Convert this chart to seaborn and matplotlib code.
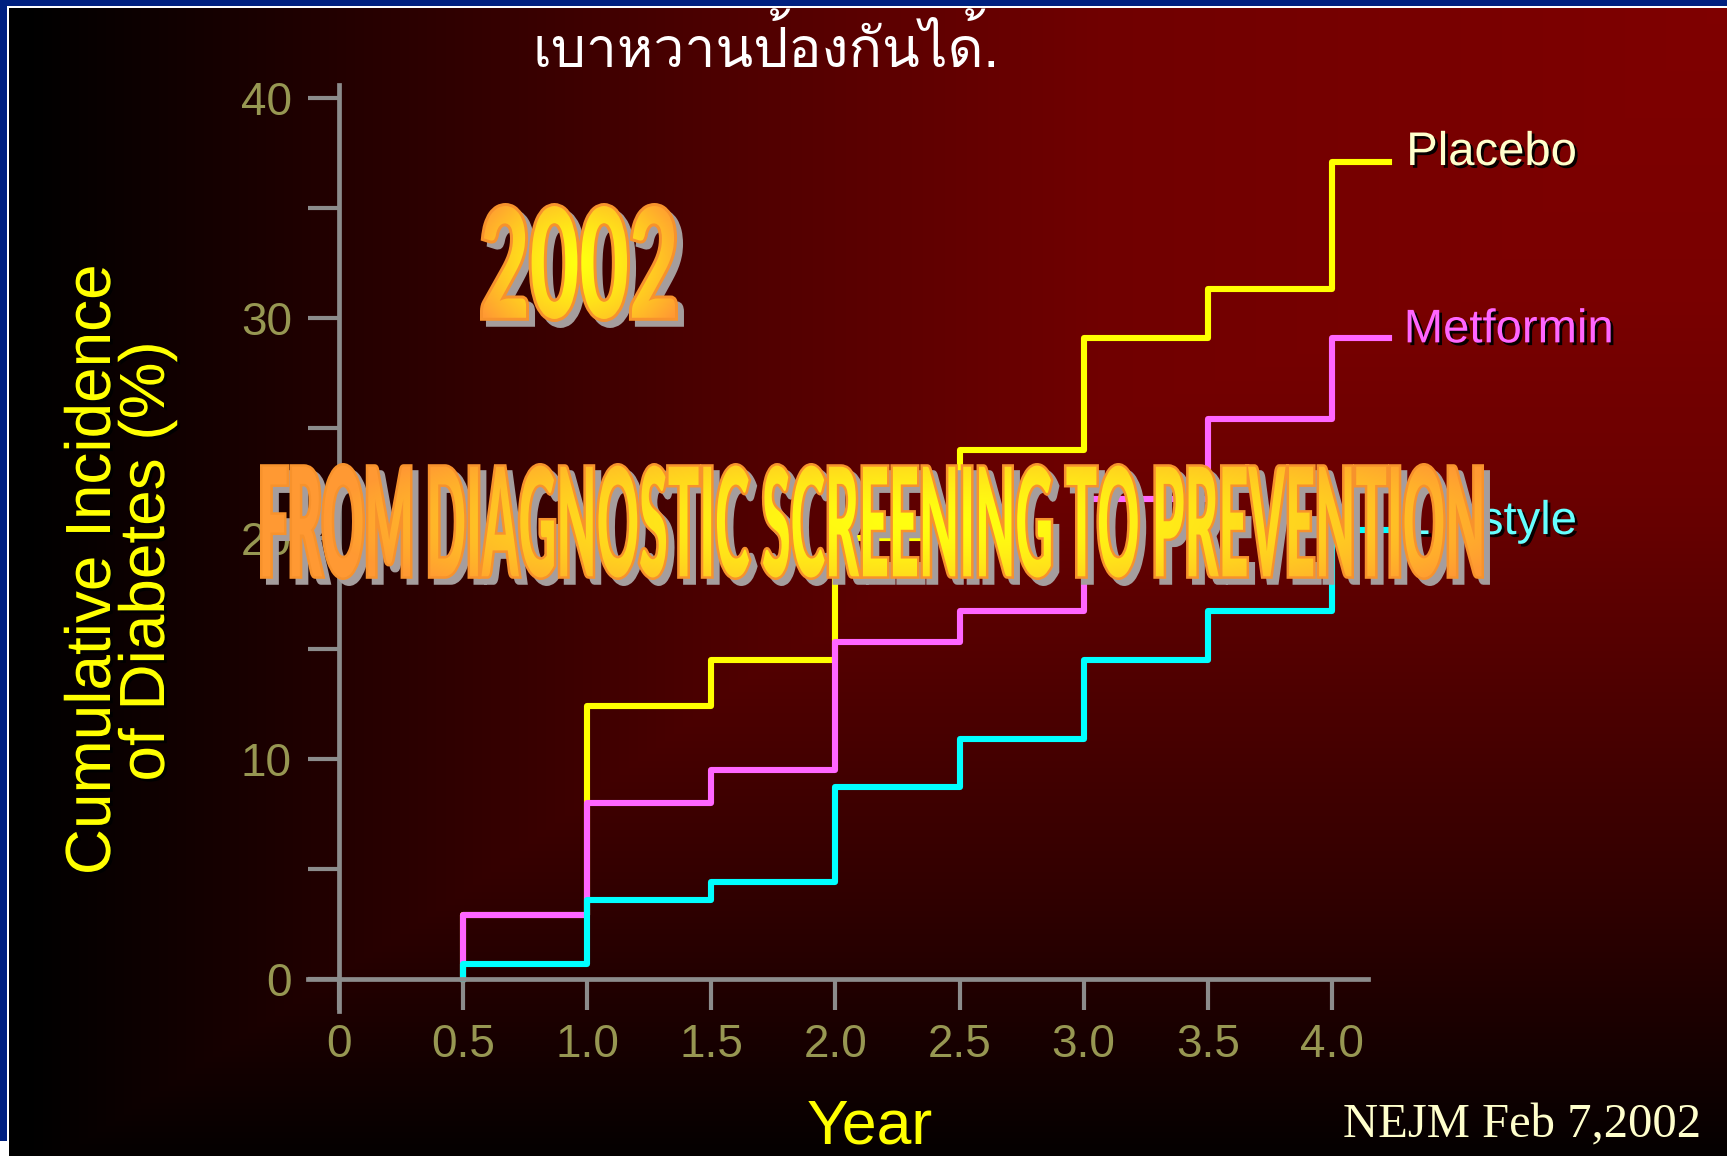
import numpy as np
import pandas as pd
import matplotlib
matplotlib.use("Agg")
import matplotlib.pyplot as plt
import matplotlib.patheffects as pe
from matplotlib.patches import Rectangle
from matplotlib.transforms import Affine2D, TransformedPath
from matplotlib.textpath import TextPath
from matplotlib.font_manager import FontProperties, fontManager
from matplotlib.ft2font import FT2Font
from matplotlib.colors import to_rgb, to_rgba
import seaborn as sns

# ---------------- data ----------------
years = [0.5, 0.5, 1.0, 1.5, 2.0, 2.5, 3.0, 3.5, 4.0, 4.23]
placebo = [0.0, 2.9, 12.4, 14.5, 20.0, 24.0, 29.1, 31.3, 37.1, 37.1]
metformin = [0.0, 2.9, 8.0, 9.5, 15.3, 16.7, 21.8, 25.4, 29.1, 29.1]
lifestyle = [0.0, 0.7, 3.6, 4.4, 8.7, 10.9, 14.5, 16.7, 20.4, 20.4]
groups = ["Placebo", "Metformin", "Lifestyle"]
line_colors = ["#ffff00", "#ff66ff", "#00ffff"]
label_colors = ["#ffffcc", "#ff66ff", "#66ffff"]
label_x = [4.30, 4.29, 4.29]
label_y = [36.95, 28.9, 20.2]

x_ticks = [0.0, 0.5, 1.0, 1.5, 2.0, 2.5, 3.0, 3.5, 4.0]
x_tick_labels = ["0", "0.5", "1.0", "1.5", "2.0", "2.5", "3.0", "3.5", "4.0"]
y_ticks = [0, 5, 10, 15, 20, 25, 30, 35, 40]
y_tick_labels = ["0", "", "10", "", "20", "", "30", "", "40"]

df = pd.DataFrame({
    "Year": years * 3,
    "Incidence": placebo + metformin + lifestyle,
    "Group": [g for g in groups for _ in years],
})

# ---------------- figure ----------------
W_PX, H_PX, DPI = 1727, 1156, 100
plt.rcParams["font.family"] = ["Liberation Sans", "DejaVu Sans"]
fig = plt.figure(figsize=(W_PX / DPI, H_PX / DPI), dpi=DPI)

# dark red slide background, brightest toward the upper right corner
xs = np.arange(W_PX)
ys = np.arange(H_PX)
fx = np.interp(xs, [0, 25, 400, 750, 1100, 1727], [0, 0, 0.33, 0.63, 0.88, 1.0])
fy = np.interp(ys, [0, 300, 500, 900, 1156], [1.0, 0.95, 0.83, 0.375, 0.03])
shade = np.minimum(fx[None, :], fy[:, None])
bg = np.zeros((H_PX, W_PX, 3))
bg[..., 0] = shade * 0.5
ax_bg = fig.add_axes([0, 0, 1, 1], zorder=-5)
ax_bg.imshow(bg, aspect="auto", interpolation="bilinear", extent=(0, 1, 0, 1))
ax_bg.set_axis_off()

# slide frame (blue band with a thin white rule)
def frame_rect(x, y, w, h, color):
    fig.add_artist(Rectangle((x / W_PX, 1 - (y + h) / H_PX), w / W_PX, h / H_PX,
                             transform=fig.transFigure, color=color, lw=0, zorder=20))

BLUE = "#002080"
frame_rect(0, 0, W_PX, 6, BLUE)
frame_rect(7, 6, W_PX - 7, 2, "white")
frame_rect(0, 0, 7, 1141, BLUE)
frame_rect(7, 6, 2, 1150, "white")
frame_rect(0, 1141, 9, 15, "white")

# ---------------- chart ----------------
ax = fig.add_axes([0.16757, 0.11497, 0.67545, 0.81946])
ax.set_facecolor("none")
ax.set_xlim(-0.2, 4.5)
ax.set_ylim(-2, 41)

sns.lineplot(data=df, x="Year", y="Incidence", hue="Group", hue_order=groups,
             palette=dict(zip(groups, line_colors)), estimator=None, sort=False,
             drawstyle="steps-post", linewidth=4.4, legend=False, ax=ax)

AXIS_GRAY = "#8c8c8c"
TICK_OLIVE = "#979752"
for side in ("top", "right"):
    ax.spines[side].set_visible(False)
ax.spines["left"].set_position(("data", 0))
ax.spines["bottom"].set_position(("data", 0))
ax.spines["left"].set_bounds(-1.45, 40.6)
ax.spines["bottom"].set_bounds(-0.125, 4.145)
for side in ("left", "bottom"):
    ax.spines[side].set_color(AXIS_GRAY)
    ax.spines[side].set_linewidth(3.4)

ax.set_xticks(x_ticks, x_tick_labels)
ax.set_yticks(y_ticks, y_tick_labels)
ax.tick_params(axis="both", direction="out", length=22.5, width=3.0,
               color=AXIS_GRAY, labelcolor=TICK_OLIVE, labelsize=33)
ax.tick_params(axis="x", pad=9.5)
ax.tick_params(axis="y", pad=11.5)
ax.set_xlabel("")
ax.set_ylabel("")

shadow = [pe.withSimplePatchShadow(offset=(2, -2), shadow_rgbFace="black", alpha=0.95)]
for name, lx, ly, col in zip(groups, label_x, label_y, label_colors):
    ax.text(lx, ly, name, color=col, fontsize=34, ha="left", va="baseline",
            path_effects=shadow)

# axis titles
fig.text(110 / W_PX, (H_PX - 570) / H_PX, "Cumulative Incidence", rotation=90,
         rotation_mode="anchor", ha="center", va="baseline", fontsize=46,
         color="#ffff00", path_effects=shadow)
fig.text(164 / W_PX, (H_PX - 561.5) / H_PX, "of Diabetes (%)", rotation=90,
         rotation_mode="anchor", ha="center", va="baseline", fontsize=46,
         color="#ffff00", path_effects=shadow)
fig.text(870 / W_PX, (H_PX - 1143) / H_PX, "Year", ha="center", va="baseline",
         fontsize=45, color="#ffff00")
fig.text(1701 / W_PX, (H_PX - 1137) / H_PX, "NEJM Feb 7,2002", ha="right",
         va="baseline", fontsize=35, color="#ffffcc", family="Liberation Serif")

# handwritten Thai note at the top
thai_note = "เบาหวานป้องกันได้."
thai_needed = {ord(c) for c in thai_note if ord(c) >= 0x0E00}
thai_candidates = []
for entry in fontManager.ttflist:
    try:
        cmap = FT2Font(entry.fname).get_charmap()
    except Exception:
        continue
    if thai_needed.issubset(cmap):
        w = entry.weight if isinstance(entry.weight, int) else 400
        thai_candidates.append((abs(w - 400), entry.style != "normal", entry.fname))
thai_candidates.sort()
if thai_candidates:
    thai_fp = FontProperties(fname=thai_candidates[0][2])
else:
    thai_fp = FontProperties(family="DejaVu Sans")
try:
    t_ext = TextPath((0, 0), "า", size=100, prop=thai_fp).get_extents()
    thai_px = 100 * 31 / max(t_ext.height, 1)
except Exception:
    thai_px = 56
thai_fp.set_size(thai_px * 72 / DPI)
fig.text(766 / W_PX, (H_PX - 67) / H_PX, thai_note, fontproperties=thai_fp,
         color="white", ha="center", va="baseline")


# ---------------- word-art titles ----------------
def stretched(affine, sy):
    x0, y0 = affine.get_matrix()[:2, 2]
    return affine + Affine2D().translate(-x0, -y0).scale(1, sy).translate(x0, y0)


class ArtStroke(pe.AbstractPathEffect):
    """Vertically stretched glyphs, filled and outlined in one colour."""

    def __init__(self, sy, color, lw, offset=(0, 0)):
        super().__init__()
        self.sy, self.color, self.lw, self.off = sy, color, lw, offset

    def draw_path(self, renderer, gc, tpath, affine, rgbFace=None):
        ox, oy = (renderer.points_to_pixels(v) for v in self.off)
        aff = stretched(affine, self.sy) + Affine2D().translate(ox, oy)
        gc0 = renderer.new_gc()
        gc0.copy_properties(gc)
        gc0.set_foreground(self.color)
        gc0.set_linewidth(self.lw)
        gc0.set_joinstyle("miter")
        renderer.draw_path(gc0, tpath, aff, to_rgba(self.color))
        gc0.restore()


class ArtGradient(pe.AbstractPathEffect):
    """Radial yellow-to-orange fill clipped to the stretched glyphs."""

    def __init__(self, sy, inner, outer, center, radius, gamma=1.3):
        super().__init__()
        self.sy = sy
        self.inner = np.array(to_rgb(inner))
        self.outer = np.array(to_rgb(outer))
        self.center, self.radius, self.gamma = center, radius, gamma

    def draw_path(self, renderer, gc, tpath, affine, rgbFace=None):
        aff = stretched(affine, self.sy)
        ext = tpath.transformed(aff).get_extents()
        x0, y0 = int(np.floor(ext.x0)) - 1, int(np.floor(ext.y0)) - 1
        w = int(np.ceil(ext.x1)) + 1 - x0
        h = int(np.ceil(ext.y1)) + 1 - y0
        yy, xx = np.mgrid[0:h, 0:w]
        nx = (xx + 0.5) / w
        ny = (yy + 0.5) / h
        d = np.sqrt(((nx - self.center[0]) / self.radius[0]) ** 2 +
                    ((ny - self.center[1]) / self.radius[1]) ** 2)
        t = np.clip(d, 0, 1) ** self.gamma
        rgb = self.inner * (1 - t)[..., None] + self.outer * t[..., None]
        img = np.ones((h, w, 4))
        img[..., :3] = rgb
        img = np.ascontiguousarray((img * 255).astype(np.uint8))
        gc0 = renderer.new_gc()
        gc0.copy_properties(gc)
        gc0.set_clip_path(TransformedPath(tpath, aff))
        renderer.draw_image(gc0, x0, y0, img)
        gc0.restore()


def word_art(s, fp, left, right, top, bottom, thick, center, radius, gamma):
    ext = TextPath((0, 0), s, size=100, prop=fp).get_extents()
    f_px = 100 * (right - left - thick) / ext.width
    sy = (bottom - top - thick) / (ext.height * f_px / 100)
    x_text = left + thick / 2 - ext.x0 * f_px / 100
    y_base = (H_PX - bottom) + thick / 2 - ext.y0 * f_px / 100 * sy
    prop = fp.copy()
    prop.set_size(f_px * 72 / DPI)
    lw = thick * 72 / DPI
    effects = [
        ArtStroke(sy, "#a59d9d", lw, offset=(4.3, -4.3)),
        ArtStroke(sy, "#f7922c", lw),
        ArtGradient(sy, "#ffff10", "#ff9933", center, radius, gamma),
    ]
    fig.text(x_text / W_PX, y_base / H_PX, s, fontproperties=prop, color="#ff9933",
             ha="left", va="baseline", path_effects=effects)


art_fp = FontProperties(family=["Lato", "Liberation Sans"], weight="black")
word_art("2002", art_fp, 480, 678, 203, 322, 6, (0.5, 0.5), (0.6, 0.8), 1.5)
word_art("FROM DIAGNOSTIC SCREENING TO PREVENTION", art_fp, 260, 1484, 463, 580, 5,
         (0.55, 0.5), (0.5, 0.9), 1.7)

fig.savefig("out.png", dpi=DPI)
